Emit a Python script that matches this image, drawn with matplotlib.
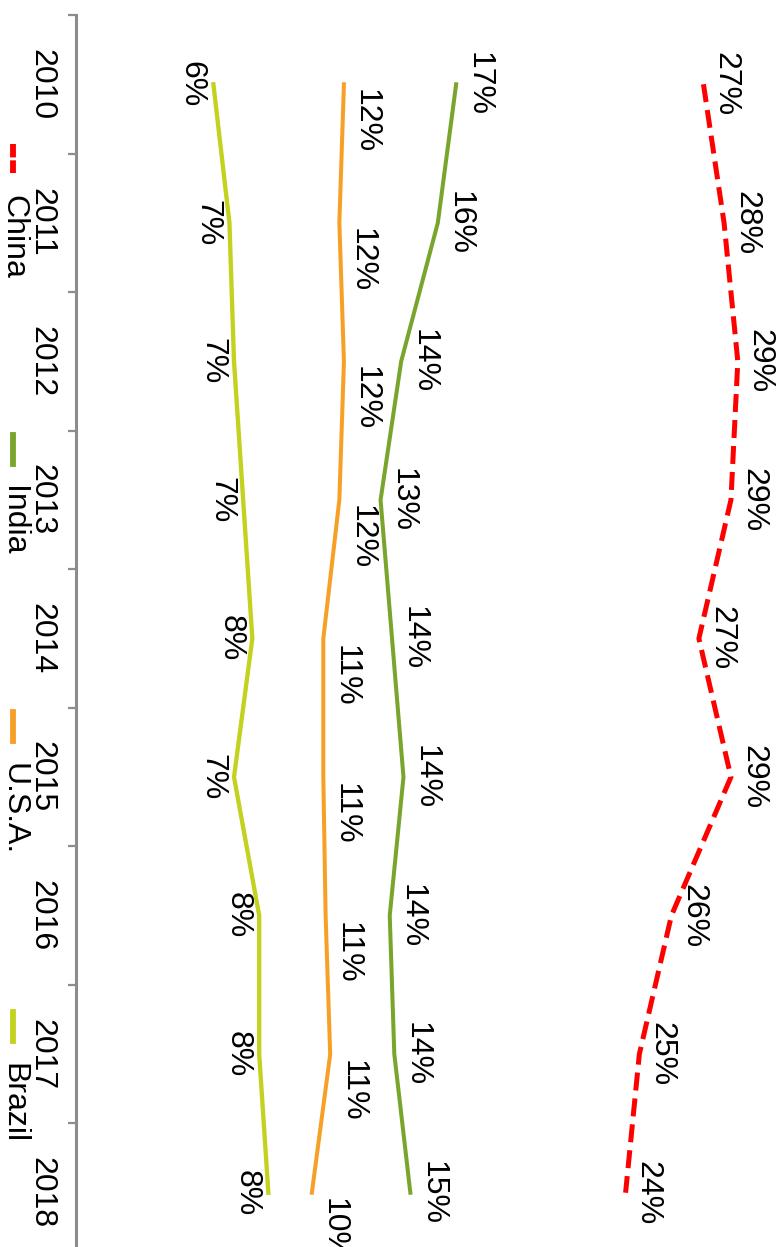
import matplotlib
matplotlib.use("Agg")
import matplotlib.pyplot as plt
from matplotlib.lines import Line2D

plt.rcParams['font.family'] = ['Liberation Sans', 'DejaVu Sans']

# Data (share in %, per year)
years = ['2010', '2011', '2012', '2013', '2014', '2015', '2016', '2017', '2018']
china = [27.4, 28.3, 28.9, 28.6, 27.2, 28.6, 26.0, 24.6, 24.0]
india = [16.6, 15.8, 14.2, 13.3, 13.8, 14.3, 13.7, 13.9, 14.6]
usa = [11.7, 11.5, 11.7, 11.5, 10.8, 10.8, 10.9, 11.1, 10.3]
brazil = [6.0, 6.7, 6.9, 7.3, 7.7, 6.9, 8.0, 8.0, 8.4]

W, H = 784, 1247
PX = 0.72  # points per pixel at dpi 100
FS = 23

fig = plt.figure(figsize=(W / 100, H / 100), dpi=100)

# chart is drawn rotated: years run top -> bottom, values grow to the right
ax_left, ax_top, ax_bottom = 76, 15, 1262
ax = fig.add_axes([ax_left / W, (H - ax_bottom) / H, (W - ax_left) / W, (ax_bottom - ax_top) / H])
ax.set_xlim(0, (W - ax_left) / 22.9)
ax.set_ylim(len(years) - 0.5, -0.5)

idx = list(range(len(years)))
series = [
    ('China', china, '#ff0000', 3.6, (22, 0)),
    ('India', india, '#7aa52c', 2.9, (22, 0)),
    ('U.S.A.', usa, '#f7a028', 2.9, (22, 37)),
    ('Brazil', brazil, '#c3d11f', 3.1, (-22, 0)),
]

for name, vals, color, lw, (dx, dy) in series:
    if name == 'China':
        ax.plot(vals, idx, color=color, lw=lw, dashes=(3.6, 1.6), solid_capstyle='butt')
    else:
        ax.plot(vals, idx, color=color, lw=lw, solid_joinstyle='miter')
    for i, v in zip(idx, vals):
        ax.annotate(f"{v:.0f}%", xy=(v, i), xytext=(dx * PX, -dy * PX),
                    textcoords='offset points', rotation=-90,
                    ha='center', va='center', fontsize=FS, annotation_clip=False)

# category axis
for s in ['top', 'right', 'bottom']:
    ax.spines[s].set_visible(False)
ax.spines['left'].set_color('#8c8c8c')
ax.spines['left'].set_linewidth(2.2)
ax.set_xticks([])
ax.set_yticks([i - 0.5 for i in range(len(years) + 1)])
ax.set_yticklabels([])
ax.tick_params(axis='y', direction='out', length=6, width=1.6, color='#8c8c8c')

for i, y in enumerate(years):
    ax.annotate(y, xy=(0, i), xytext=(-35 * PX, 0), textcoords='offset points',
                rotation=-90, ha='center', va='center', fontsize=FS, annotation_clip=False)

# legend, drawn by hand because it is rotated
leg_starts = [144, 435, 712, 1012]
for (name, vals, color, lw, _), y0 in zip(series, leg_starts):
    x = 13 / W
    kw = dict(dashes=(2.3, 0.5)) if name == 'China' else {}
    fig.add_artist(Line2D([x, x], [(H - y0) / H, (H - y0 - 29) / H],
                          transform=fig.transFigure, color=color, lw=4.2, **kw))
    fig.text(x, (H - y0 - 51) / H, name, rotation=-90, ha='center', va='top', fontsize=FS)

fig.savefig("out.png", dpi=100)
